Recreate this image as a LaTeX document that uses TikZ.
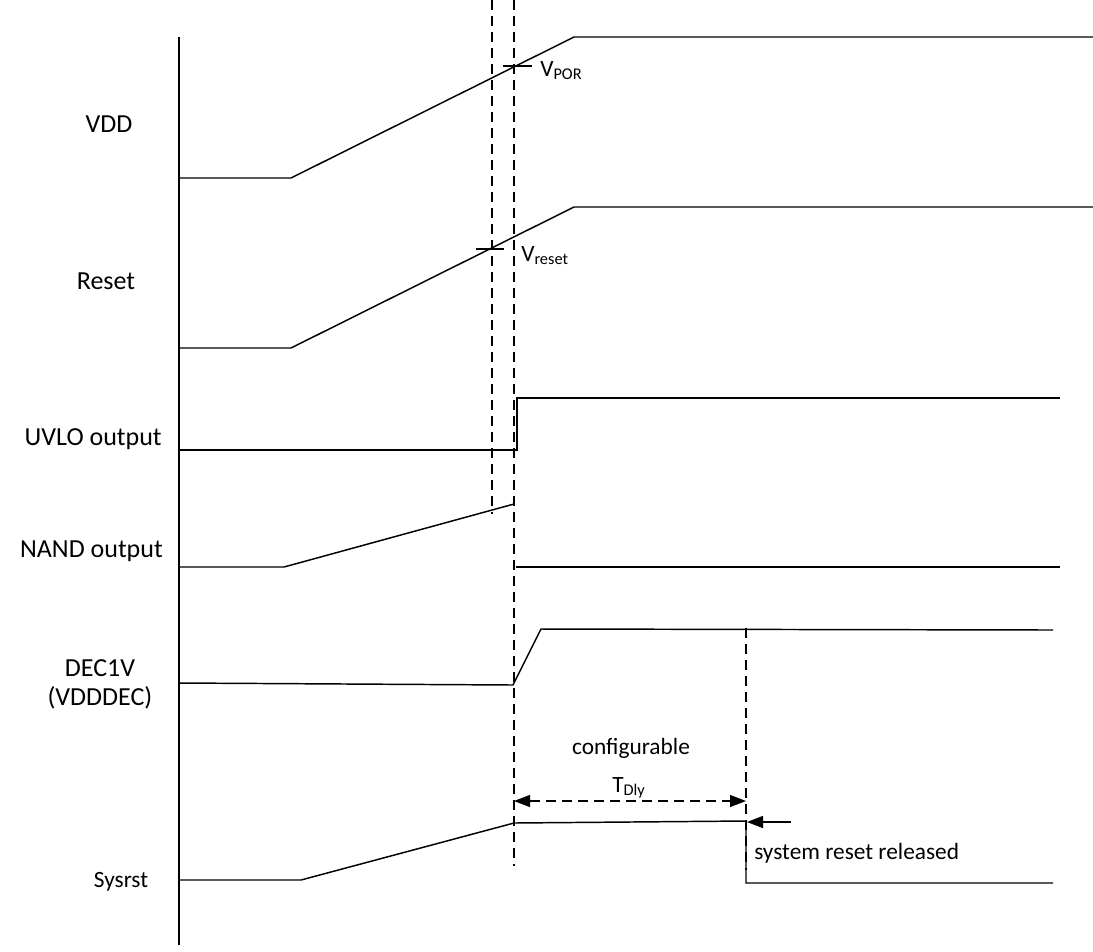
\documentclass[tikz,border=0pt]{standalone}
\usepackage{fontspec}
\setmainfont{Carlito}
\usetikzlibrary{arrows.meta}
\tikzset{
  sig/.style={line width=1.1pt, line join=miter},
  guide/.style={line width=0.9pt, dash pattern=on 7.5pt off 4.5pt},
  lbl/.style={font=\fontsize{19.5}{22}\selectfont, inner sep=0pt, anchor=base},
  lble/.style={font=\fontsize{19.5}{22}\selectfont, inner sep=0pt, anchor=base east},
  lbll/.style={font=\fontsize{17.5}{20}\selectfont, inner sep=0pt, anchor=base west},
  lblc/.style={font=\fontsize{17.5}{20}\selectfont, inner sep=0pt, anchor=base},
  tip/.style={-{Triangle[length=12pt,width=9pt]}},
}
\begin{document}
\begin{tikzpicture}[x=0.75pt,y=-0.75pt]
\useasboundingbox (0,0) rectangle (1093,951);
% axis
\draw[sig] (179,37) -- (179,945);
% dashed guides
\draw[guide] (492,0) -- (492,514);
\draw[guide] (514,0) -- (514,866);
\draw[guide] (746,628) -- (746,870);
% VDD
\draw[sig] (179,178) -- (291,178) -- (574,37) -- (1093,37);
\draw[sig] (503,66) -- (532,66);
% Reset
\draw[sig] (179,348) -- (291,348) -- (574,207) -- (1093,207);
\draw[sig] (476,249) -- (504,249);
% UVLO
\draw[sig] (179,450) -- (517,450) -- (517,398) -- (1060,398);
% NAND
\draw[sig] (179,567) -- (284,567) -- (514,504);
\draw[sig] (516,567) -- (1060,567);
% DEC1V
\draw[sig] (179,683) -- (513,685) -- (541,629) -- (1053,630);
% Sysrst
\draw[sig] (179,880) -- (301,880) -- (514,823) -- (746,821) -- (746,883) -- (1053,883);
% arrows
\coordinate (dA) at (514,801);
\coordinate (dB) at (746,801);
\draw[guide, {Triangle[length=12pt,width=9pt]}-{Triangle[length=12pt,width=9pt]}] (dA) -- (dB);
\coordinate (rA) at (791,822);
\coordinate (rB) at (747,822);
\draw[sig, tip] (rA) -- (rB);
% labels
\node[lbl] (vdd) at (109,132) {VDD};
\node[lbl] (reset) at (106,289) {Reset};
\node[lble] (uvlo) at (162,445) {UVLO output};
\node[lble] (nand) at (163,557) {NAND output};
\node[lbl] (dec) at (100,676) {DEC1V};
\node[lbl] (vdddec) at (100,705) {(VDDDEC)};
\node[lblc] (sys) at (121,887) {Sysrst};
\node[lbll] (vpor) at (540,76) {V\textsubscript{POR}};
\node[lbll] (vres) at (521,261) {V\textsubscript{reset}};
\node[lblc] (conf) at (631,754) {configurable};
\node[lbll] (tdly) at (612,792) {T\textsubscript{Dly}};
\node[lbll] (srr) at (754,859) {system reset released};
\end{tikzpicture}
\end{document}
